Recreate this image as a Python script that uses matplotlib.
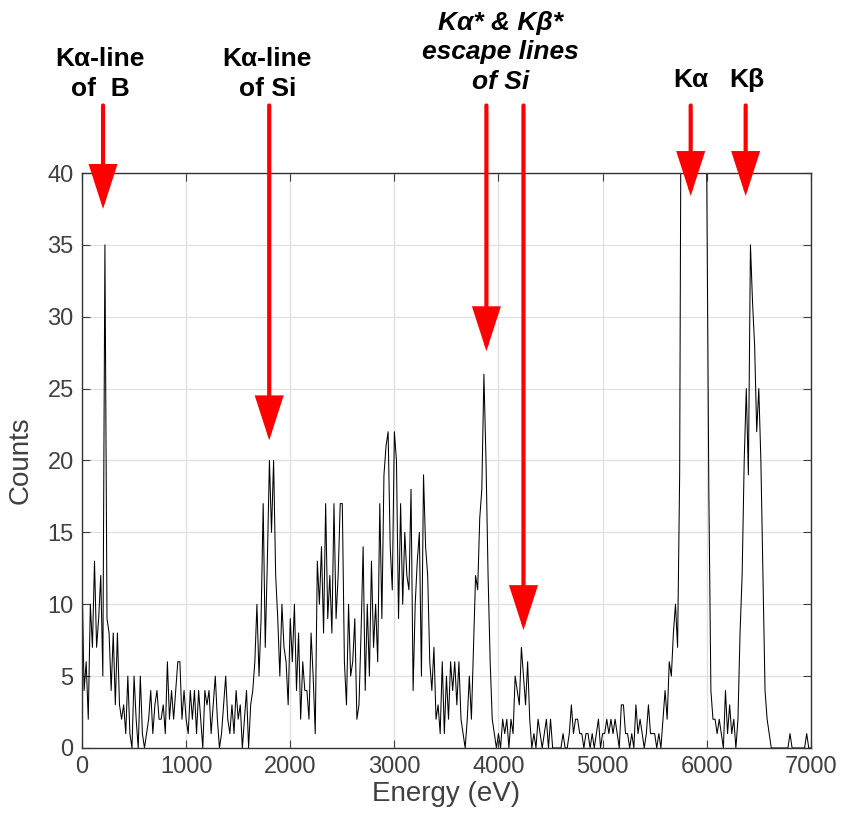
import numpy as np
import matplotlib
matplotlib.use("Agg")
import matplotlib.pyplot as plt

# spectrum: counts per 20 eV channel, 0 .. 7000 eV
CHANNEL_EV = 20
counts = [
    12, 4, 6, 2, 10, 7, 13, 7, 9, 12,          # 0
    5, 35, 9, 8, 4, 8, 3, 8, 3, 2,             # 200
    3, 1, 5, 1, 0, 5, 2, 0, 5, 1,              # 400
    0, 1, 2, 4, 1, 3, 4, 2, 2, 3,              # 600
    1, 6, 2, 4, 2, 4, 6, 6, 2, 4,              # 800
    2, 1, 4, 2, 4, 1, 4, 2, 0, 4,              # 1000
    3, 4, 1, 3, 5, 2, 0, 1, 3, 5,              # 1200
    2, 1, 3, 1, 4, 2, 3, 0, 2, 4,              # 1400
    0, 3, 4, 6, 10, 5, 9, 17, 7, 13,           # 1600
    20, 15, 20, 12, 9, 5, 10, 7, 6, 3,         # 1800
    9, 6, 10, 4, 8, 2, 6, 4, 4, 2,             # 2000
    8, 5, 1, 13, 10, 14, 8, 17, 9, 12,         # 2200
    8, 17, 9, 12, 17, 17, 6, 3, 10, 5,         # 2400
    6, 9, 2, 3, 8, 14, 4, 10, 5, 13,           # 2600
    7, 10, 6, 17, 9, 19, 21, 22, 14, 11,       # 2800
    22, 20, 9, 17, 10, 15, 12, 11, 18, 4,      # 3000
    10, 13, 15, 5, 19, 14, 12, 6, 4, 7,        # 3200
    2, 3, 1, 6, 1, 5, 2, 6, 4, 6,              # 3400
    3, 6, 2, 1, 0, 2, 5, 2, 7, 12,             # 3600
    11, 16, 18, 26, 20, 12, 6, 2, 1, 0,        # 3800
    1, 0, 2, 1, 2, 0, 2, 1, 5, 4,              # 4000
    3, 7, 5, 3, 6, 2, 0, 1, 0, 2,              # 4200
    1, 0, 1, 2, 0, 2, 0, 0, 0, 0,              # 4400
    0, 1, 0, 0, 1, 3, 1, 2, 2, 1,              # 4600
    1, 0, 1, 1, 0, 1, 0, 1, 2, 0,              # 4800
    1, 1, 2, 1, 2, 1, 2, 1, 0, 3,              # 5000
    3, 1, 1, 0, 1, 0, 3, 1, 2, 1,              # 5200
    0, 1, 3, 1, 1, 1, 0, 1, 0, 2,              # 5400
    4, 2, 6, 5, 8, 10, 7, 19, 60, 120,         # 5600
    160, 190, 200, 195, 180, 160, 140, 120, 100, 80,  # 5800 (off scale)
    40, 18, 4, 2, 2, 1, 2, 1, 0, 4,            # 6000
    1, 3, 1, 2, 0, 2, 8, 12, 20, 25,           # 6200
    19, 35, 31, 28, 22, 25, 20, 12, 4, 2,      # 6400
    1, 0, 0, 0, 0, 0, 0, 0, 0, 0,              # 6600
    1, 0, 0, 0, 0, 0, 0, 0, 1, 0,              # 6800
    0,                                         # 7000
]

# annotations: label text, label x (eV), label y (counts), arrow x, arrow tip y
labels = ["K\u03b1-line\nof  B", "K\u03b1-line\nof Si",
          "K\u03b1* & K\u03b2*\nescape lines\nof Si", "K\u03b1", "K\u03b2"]
label_x = [175, 1780, 4020, 5846, 6384]
label_y = [46.9, 46.9, 48.4, 46.5, 46.5]
label_italic = [False, False, True, False, False]
arrow_x = [202, 1798, 3884, 4240, 5846, 6374]
arrow_tip = [37.5, 21.4, 27.6, 8.2, 38.4, 38.4]
ARROW_TAIL = 44.7

RED = "#ff0000"
GRAY = "#404040"


def main() -> None:
    plt.rcParams["font.family"] = ["Liberation Sans", "DejaVu Sans"]

    energy = np.arange(len(counts)) * CHANNEL_EV

    fig = plt.figure(figsize=(8.42, 8.18), dpi=100)
    ax = fig.add_axes([0.0974, 0.0856, 0.8656, 0.7029])

    ax.plot(energy, counts, color="black", lw=0.75)

    ax.set_xlim(0, 7000)
    ax.set_ylim(0, 40)
    ax.set_xticks(range(0, 7001, 1000))
    ax.set_yticks(range(0, 41, 5))
    ax.grid(True, color="#e0e0e0", lw=0.9)
    ax.set_axisbelow(True)
    ax.tick_params(direction="in", length=6, top=True, right=True,
                   labelsize=17, colors=GRAY, pad=6)
    for sp in ax.spines.values():
        sp.set_color("#333333")
        sp.set_linewidth(1.0)
    ax.set_xlabel("Energy (eV)", fontsize=20, color=GRAY, labelpad=2)
    ax.set_ylabel("Counts", fontsize=20, color=GRAY, labelpad=10)

    for xa, tip in zip(arrow_x, arrow_tip):
        ax.annotate("", xy=(xa, tip), xytext=(xa, ARROW_TAIL),
                    arrowprops=dict(arrowstyle="-|>,head_length=1.3,head_width=0.42",
                                    lw=3, color=RED, shrinkA=0, shrinkB=0,
                                    mutation_scale=20, joinstyle="miter"),
                    annotation_clip=False)

    for txt, xl, yl, it in zip(labels, label_x, label_y, label_italic):
        ax.text(xl, yl, txt, ha="center", va="center", fontsize=19,
                fontweight="bold", style="italic" if it else "normal",
                linespacing=1.3, clip_on=False)

    fig.savefig("out.png", dpi=100)
    plt.close(fig)


if __name__ == "__main__":
    main()
